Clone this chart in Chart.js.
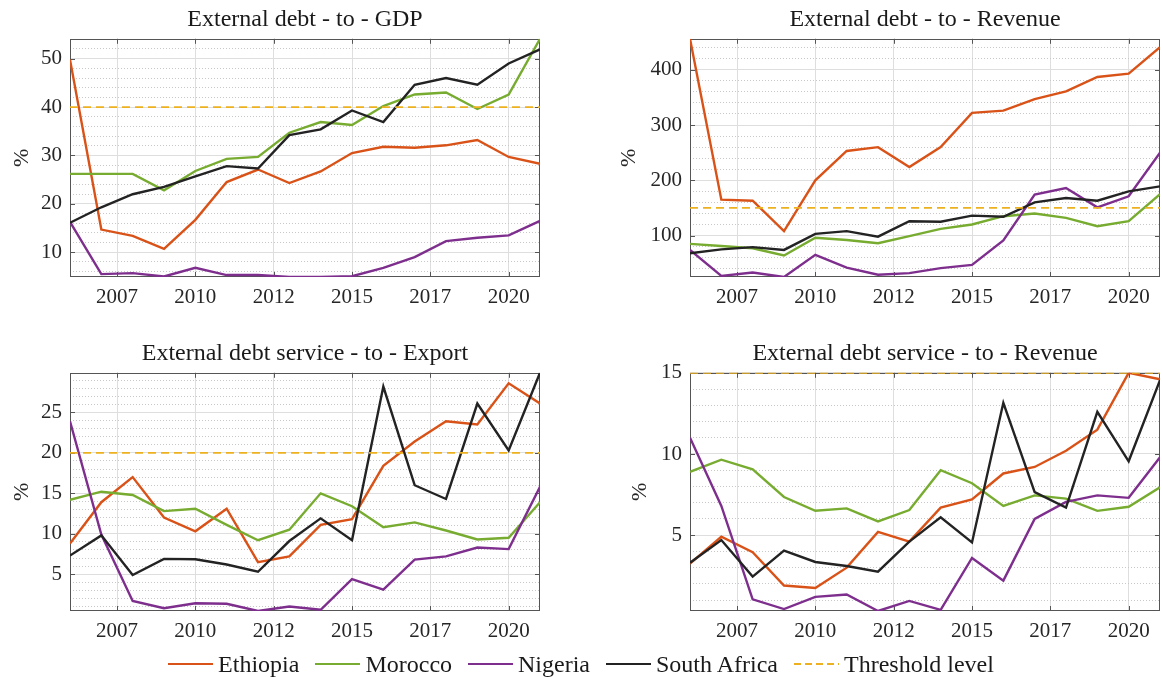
<!DOCTYPE html>
<html>
<head>
<meta charset="utf-8">
<script src="https://cdn.jsdelivr.net/npm/chart.js@4.4.1/dist/chart.umd.min.js"></script>
<style>
body{margin:0;background:#fff;width:1162px;height:677px;position:relative;overflow:hidden;font-family:"Liberation Serif",serif;}
canvas{position:absolute;}
#legend{position:absolute;left:0;top:650px;width:1162px;height:28px;display:flex;justify-content:center;align-items:center;font-size:24px;color:#1a1a1a;}
.item{display:flex;align-items:center;margin:0 8px;}
.swatch{width:45px;height:2.5px;margin-right:5px;}
</style>
</head>
<body>
<canvas id="c0" width="560" height="320" style="left:0;top:0"></canvas>
<canvas id="c1" width="582" height="320" style="left:580px;top:0"></canvas>
<canvas id="c2" width="560" height="320" style="left:0;top:334px"></canvas>
<canvas id="c3" width="582" height="320" style="left:580px;top:334px"></canvas>
<div id="legend"></div>
<script>
var FONT = '"Liberation Serif", serif';

var years = [2006,2007,2008,2009,2010,2011,2012,2013,2014,2015,2016,2017,2018,2019,2020,2021];
var tickValues = [2007.5,2010,2012.5,2015,2017.5,2020];
var tickLabels = ['2007','2010','2012','2015','2017','2020'];
var countries = ['Ethiopia','Morocco','Nigeria','South Africa'];
var colors = ['#D95319','#77AC30','#7E2F8E','#232323'];
var titles = ['External debt - to - GDP','External debt - to - Revenue','External debt service - to - Export','External debt service - to - Revenue'];
var thresholds = [40,150,20,15];

// external debt / GDP
var gdpEth = [49.8,14.7,13.4,10.7,16.7,24.5,27.1,24.3,26.7,30.5,31.8,31.6,32.1,33.2,29.7,28.3];
var gdpMor = [26.2,26.2,26.2,22.8,26.8,29.3,29.7,34.7,36.9,36.3,40.2,42.6,43.0,39.6,42.6,54.1];
var gdpNig = [16.3,5.5,5.7,5.0,6.8,5.3,5.3,4.9,4.9,5.05,6.8,9.0,12.3,13.0,13.5,16.5];
var gdpSa  = [16.1,19.3,22.0,23.5,25.7,27.8,27.3,34.2,35.4,39.3,36.9,44.6,46.0,44.6,49.0,51.9];

// external debt / revenue
var revEth = [456,165,163,108,200,253,260,224,260,322,326,347,361,387,393,441];
var revMor = [85,81,77,64,96,92,86,99,112,120,135,140,132,117,126,175];
var revNig = [74,27,33,25,65,42,29,32,41,47,91,174,186,151,171,250];
var revSa  = [68,75,79,74,103,108,98,126,125,136,134,160,168,163,180,189];

// debt service / exports
var expSvcEth = [8.8,13.9,17.0,12.0,10.3,13.1,6.5,7.2,11.1,11.8,18.4,21.4,23.9,23.5,28.6,26.1];
var expSvcMor = [14.2,15.2,14.8,12.8,13.1,11.1,9.2,10.5,15.0,13.4,10.8,11.4,10.4,9.3,9.5,13.9];
var expSvcNig = [23.9,9.9,1.7,0.8,1.4,1.35,0.45,1.0,0.6,4.4,3.1,6.8,7.2,8.3,8.1,15.8];
var expSvcSa  = [7.3,9.8,4.9,6.9,6.85,6.2,5.3,9.1,11.9,9.2,28.2,16.0,14.3,26.1,20.3,29.9];

// debt service / revenue
var revSvcEth = [3.25,4.9,3.95,1.9,1.75,3.0,5.2,4.6,6.7,7.2,8.8,9.2,10.2,11.5,15.0,14.6];
var revSvcMor = [8.9,9.65,9.05,7.35,6.5,6.65,5.85,6.55,9.0,8.2,6.8,7.45,7.25,6.5,6.75,7.95];
var revSvcNig = [11.0,6.8,1.05,0.45,1.2,1.35,0.33,0.95,0.4,3.6,2.2,6.0,7.05,7.45,7.3,9.8];
var revSvcSa  = [3.3,4.7,2.45,4.05,3.35,3.1,2.75,4.6,6.1,4.55,13.15,7.65,6.7,12.6,9.55,14.55];

var panels = [
  {id:'c0', title:titles[0], series:[gdpEth,gdpMor,gdpNig,gdpSa], threshold:thresholds[0], major:10, minor:2, axisW:70, padR:20, pctPad:9},
  {id:'c1', title:titles[1], series:[revEth,revMor,revNig,revSa], threshold:thresholds[1], major:100, minor:20, axisW:110, padR:2, pctPad:36},
  {id:'c2', title:titles[2], series:[expSvcEth,expSvcMor,expSvcNig,expSvcSa], threshold:thresholds[2], major:5, minor:1, axisW:70, padR:20, pctPad:9},
  {id:'c3', title:titles[3], series:[revSvcEth,revSvcMor,revSvcNig,revSvcSa], threshold:thresholds[3], major:5, minor:1, axisW:110, padR:2, pctPad:47}
];

// frame around the plot area with inward ticks, drawn under the lines
var axesBox = {
  id: 'axesBox',
  beforeDatasetsDraw: function(chart){
    var ctx = chart.ctx, a = chart.chartArea, sx = chart.scales.x, sy = chart.scales.y;
    ctx.save();
    ctx.strokeStyle = '#555';
    ctx.lineWidth = 1;
    ctx.strokeRect(Math.round(a.left)+0.5, Math.round(a.top)+0.5, Math.round(a.width)-1, Math.round(a.height)-1);
    ctx.beginPath();
    sx.ticks.forEach(function(t){
      var px = Math.round(sx.getPixelForValue(t.value))+0.5;
      ctx.moveTo(px, a.bottom); ctx.lineTo(px, a.bottom-5);
      ctx.moveTo(px, a.top); ctx.lineTo(px, a.top+5);
    });
    sy.ticks.forEach(function(t){
      var py = Math.round(sy.getPixelForValue(t.value))+0.5;
      ctx.moveTo(a.left, py); ctx.lineTo(a.left+5, py);
      ctx.moveTo(a.right, py); ctx.lineTo(a.right-5, py);
    });
    ctx.stroke();
    ctx.restore();
  }
};

function stepTicks(min, max, step, skip){
  var out = [];
  for(var v = Math.ceil(min/step)*step; v <= max + 1e-9; v += step){
    var r = Math.round(v*1000)/1000;
    if(skip && Math.abs(r/skip - Math.round(r/skip)) < 1e-6) continue;
    out.push({value:r});
  }
  return out;
}

function makeChart(p){
  var all = [].concat.apply([], p.series);
  var ymin = Math.min.apply(null, all), ymax = Math.max.apply(null, all);
  var datasets = p.series.map(function(s, i){
    return {
      label: countries[i],
      data: s.map(function(v, j){ return {x:years[j], y:v}; }),
      borderColor: colors[i], borderWidth: 2.4, pointRadius: 0, tension: 0, order: 5-i
    };
  });
  datasets.push({
    label: 'Threshold level',
    data: [{x:years[0], y:p.threshold}, {x:years[years.length-1], y:p.threshold}],
    borderColor: '#EDB120', borderWidth: 1.8, borderDash: [8,5], pointRadius: 0, order: 0
  });
  var tickFont = {family:FONT, size:21};
  new Chart(document.getElementById(p.id), {
    type: 'line',
    data: {datasets: datasets},
    plugins: [axesBox],
    options: {
      responsive: false,
      animation: false,
      layout: {padding:{left:0, right:p.padR, top:0, bottom:0}},
      plugins: {
        legend: {display:false},
        tooltip: {enabled:false},
        title: {display:true, text:p.title, fullSize:false, color:'#1a1a1a',
                font:{family:FONT, size:24, weight:'normal', lineHeight:1.2}, padding:{top:5, bottom:5}}
      },
      scales: {
        x: {
          type: 'linear', min: years[0], max: years[years.length-1],
          afterBuildTicks: function(s){ s.ticks = tickValues.map(function(v){ return {value:v}; }); },
          afterFit: function(s){ s.height = 43; },
          ticks: {autoSkip:false, maxRotation:0, padding:8, color:'#262626', font:tickFont,
                  callback: function(v, i){ return tickLabels[i]; }},
          grid: {color:'#dedede', drawTicks:false},
          border: {display:false}
        },
        y: {
          min: ymin, max: ymax,
          afterBuildTicks: function(s){ s.ticks = stepTicks(ymin, ymax, p.major); },
          afterFit: function(s){ s.width = p.axisW; },
          ticks: {padding:8, color:'#262626', font:tickFont},
          grid: {color:'#dedede', drawTicks:false},
          border: {display:false},
          title: {display:true, text:'%', color:'#262626', font:{family:FONT, size:22}, padding:{top:p.pctPad, bottom:0}}
        },
        yMinor: {
          position: 'left', min: ymin, max: ymax,
          afterBuildTicks: function(s){ s.ticks = stepTicks(ymin, ymax, p.minor, p.major); },
          afterFit: function(s){ s.width = 0; },
          ticks: {display:false},
          grid: {color:'#c8c8c8', drawTicks:false, lineWidth:1},
          border: {display:false, dash:[1,2]}
        }
      }
    }
  });
}

panels.forEach(makeChart);

// shared legend under the four panels
var legend = document.getElementById('legend');
var names = countries.concat(['Threshold level']);
names.forEach(function(name, i){
  var item = document.createElement('div');
  item.className = 'item';
  var sw = document.createElement('div');
  sw.className = 'swatch';
  if(i < countries.length){
    sw.style.background = colors[i];
  } else {
    sw.style.background = 'repeating-linear-gradient(to right,#EDB120 0 7px,transparent 7px 11px)';
  }
  var label = document.createElement('span');
  label.textContent = name;
  item.appendChild(sw);
  item.appendChild(label);
  legend.appendChild(item);
});
</script>
</body>
</html>
